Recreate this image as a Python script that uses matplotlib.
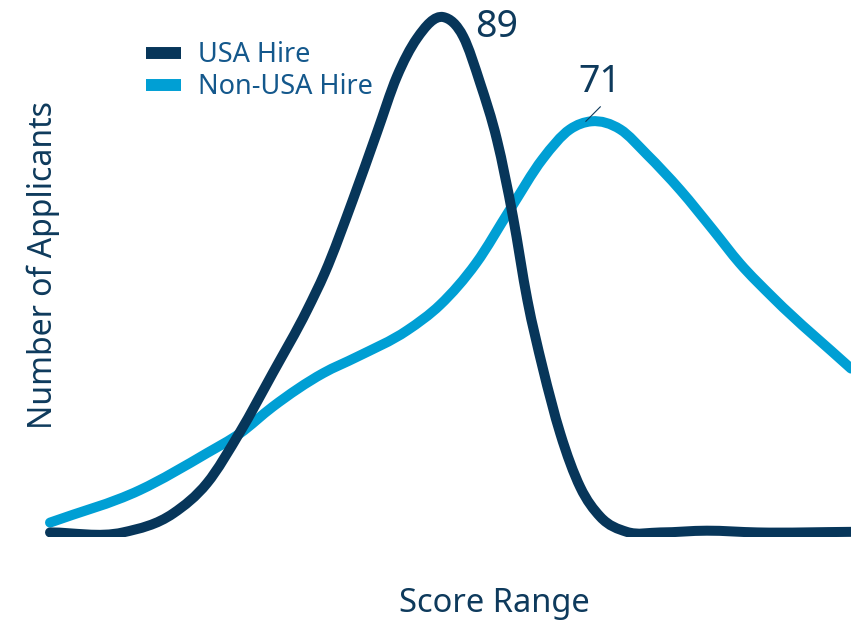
import numpy as np
import matplotlib
matplotlib.use("Agg")
import matplotlib.pyplot as plt
from matplotlib.path import Path
from matplotlib.patches import PathPatch
from matplotlib.lines import Line2D

# Score distribution of applicants (score range on x, applicant count on y)
usa_x = [0, 9.1, 15.4, 19.6, 23.7, 27.8, 32.1, 34.3, 37.8, 40.8, 43.3, 45.8,
         49.1, 51.6, 53.7, 55.8, 57.8, 59.6, 61.5, 63.7, 66.2, 68.7, 72.0,
         76.2, 82.0, 88.3, 100.0]
usa_y = [0, 0, 3.3, 8.5, 17.3, 27.5, 38.4, 44.8, 57.4, 69.0, 78.7, 85.3,
         89, 85.6, 77.6, 67.8, 54.5, 40.1, 28.5, 17.1, 7.8, 2.7, 0.1,
         0, 0.3, 0, 0.1]

non_x = [0, 11.2, 19.6, 23.7, 27.8, 34.1, 38.3, 44.6, 48.7, 53.2, 57.4, 61.5,
         64.9, 67.6, 71.2, 74.5, 78.7, 82.8, 86.1, 90.3, 100.0]
non_y = [1.7, 7.3, 13.7, 17.1, 21.7, 27.5, 30.3, 34.9, 39.3, 46.5, 55.7, 64.5,
         69.6, 71, 69.6, 65.3, 59.1, 52.2, 46.5, 40.5, 28.3]

labels = ["USA Hire", "Non-USA Hire"]
peak_usa = 89
peak_non = 71

DARK = "#07365a"
LIGHT = "#009fd4"
TEXT = "#0e3a5c"
LEGEND_TEXT = "#14588c"

plt.rcParams["font.family"] = ["Noto Sans", "DejaVu Sans"]


def smooth_path(xs, ys):
    # cubic Hermite through the points (slopes from neighbours), as Bezier segments
    x = np.asarray(xs, float)
    y = np.asarray(ys, float)
    m = np.gradient(y, x)
    verts = [(x[0], y[0])]
    codes = [Path.MOVETO]
    for i in range(len(x) - 1):
        d = (x[i + 1] - x[i]) / 3.0
        verts += [(x[i] + d, y[i] + m[i] * d),
                  (x[i + 1] - d, y[i + 1] - m[i + 1] * d),
                  (x[i + 1], y[i + 1])]
        codes += [Path.CURVE4] * 3
    return Path(verts, codes)


fig = plt.figure(figsize=(8.51, 6.23), dpi=100)
ax = fig.add_axes([30 / 851, 86 / 623, 821 / 851, 537 / 623])
ax.set_xlim(-2.5, 100)
ax.set_ylim(-0.79, 91.95)

for xs, ys, col in [(non_x, non_y, LIGHT), (usa_x, usa_y, DARK)]:
    ax.add_patch(PathPatch(smooth_path(xs, ys), fill=False, edgecolor=col,
                           lw=7.2, capstyle="round", joinstyle="round"))

# peak labels
ax.text(53.1, 85.6, str(peak_usa), fontsize=27, color=TEXT, ha="left", va="baseline")
ax.text(68.7, 76.1, str(peak_non), fontsize=27, color=TEXT, ha="center", va="baseline")
ax.plot([66.9, 68.7], [peak_non, 73.5], color=TEXT, lw=0.8)

for s in ax.spines.values():
    s.set_visible(False)
ax.set_xticks([])
ax.set_yticks([])

handles = [Line2D([], [], color=DARK, lw=8.6, solid_capstyle="butt"),
           Line2D([], [], color=LIGHT, lw=8.6, solid_capstyle="butt")]
leg = fig.legend(handles, labels, loc="upper left",
                 bbox_to_anchor=(146 / 851, 1 - 41 / 623), frameon=False,
                 fontsize=19.5, handlelength=1.3, handletextpad=0.63,
                 labelspacing=0.15, borderpad=0, borderaxespad=0)
for t in leg.get_texts():
    t.set_color(LEGEND_TEXT)

fig.text(43 / 851, 1 - 265 / 623, "Number of Applicants", rotation=90,
         fontsize=23, color=TEXT, ha="center", va="center")
fig.text(494 / 851, 1 - 612 / 623, "Score Range", fontsize=23.5, color=TEXT,
         ha="center", va="baseline")

fig.savefig("out.png", dpi=100)
